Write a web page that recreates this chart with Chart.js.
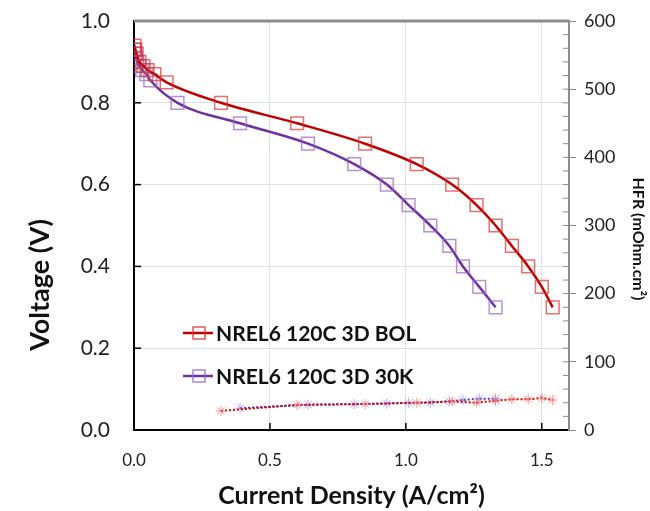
<!DOCTYPE html>
<html>
<head>
<meta charset="utf-8">
<script src="https://cdn.jsdelivr.net/npm/chart.js@4.4.1/dist/chart.umd.min.js"></script>
<style>
  html, body { margin: 0; padding: 0; background: #fff; }
  #wrap { width: 650px; height: 511px; }
</style>
</head>
<body>
<div id="wrap"><canvas id="myChart" width="650" height="511"></canvas></div>
<script>
// polarization curves: current density (A/cm2) vs voltage (V)
const bolCurrent = [0.002, 0.005, 0.01, 0.02, 0.035, 0.05, 0.075, 0.12, 0.32, 0.60, 0.85, 1.04, 1.17, 1.26, 1.33, 1.39, 1.45, 1.50, 1.54];
const bolVoltage = [0.94, 0.93, 0.92, 0.90, 0.89, 0.88, 0.87, 0.85, 0.80, 0.75, 0.70, 0.65, 0.60, 0.55, 0.50, 0.45, 0.40, 0.35, 0.30];
const k30Current = [0.0, 0.003, 0.006, 0.012, 0.02, 0.03, 0.045, 0.06, 0.16, 0.39, 0.64, 0.81, 0.93, 1.01, 1.09, 1.16, 1.21, 1.27, 1.33];
const k30Voltage = [0.93, 0.92, 0.91, 0.90, 0.89, 0.88, 0.87, 0.855, 0.80, 0.75, 0.70, 0.65, 0.60, 0.55, 0.50, 0.45, 0.40, 0.35, 0.30];

// HFR (mOhm.cm2)
const bolHfrCurrent = [0.32, 0.60, 0.85, 1.04, 1.17, 1.26, 1.33, 1.39, 1.45, 1.50, 1.54];
const bolHfr = [28, 37, 38, 40, 42, 40, 43, 45, 45, 47, 44];
const k30HfrCurrent = [0.39, 0.64, 0.81, 0.93, 1.01, 1.09, 1.16, 1.21, 1.27, 1.33];
const k30Hfr = [32, 37, 38, 39, 40, 40, 42, 44, 46, 46];

const seriesNames = ['NREL6 120C 3D BOL', 'NREL6 120C 3D 30K'];
const yTitle = 'Voltage (V)';
const y2Title = 'HFR (mOhm.cm²)';

function pts(xs, ys) {
    return xs.map((x, i) => ({ x: x, y: ys[i] }));
}

const FONT = 'Lato, "Liberation Sans", sans-serif';

const data = {
    datasets: [
        {
            label: seriesNames[0],
            data: pts(bolCurrent, bolVoltage),
            yAxisID: 'y',
            showLine: true,
            borderColor: '#c00000',
            borderWidth: 2.5,
            cubicInterpolationMode: 'monotone',
            pointStyle: 'rect',
            pointRadius: 9,
            pointBorderWidth: 1.5,
            pointBorderColor: 'rgba(220, 50, 50, 0.7)',
            pointBackgroundColor: 'rgba(0, 0, 0, 0)',
        },
        {
            label: seriesNames[1],
            data: pts(k30Current, k30Voltage),
            yAxisID: 'y',
            showLine: true,
            borderColor: '#7030a0',
            borderWidth: 2.5,
            cubicInterpolationMode: 'monotone',
            pointStyle: 'rect',
            pointRadius: 9,
            pointBorderWidth: 1.5,
            pointBorderColor: 'rgba(150, 100, 200, 0.7)',
            pointBackgroundColor: 'rgba(0, 0, 0, 0)',
        },
        {
            label: 'HFR BOL',
            data: pts(bolHfrCurrent, bolHfr),
            yAxisID: 'y2',
            showLine: true,
            borderColor: '#e00000',
            borderWidth: 2,
            borderDash: [2, 2],
            pointStyle: 'star',
            pointRadius: 5,
            pointBorderWidth: 1,
            pointBorderColor: 'rgba(240, 110, 110, 0.7)',
        },
        {
            label: 'HFR 30K',
            data: pts(k30HfrCurrent, k30Hfr),
            yAxisID: 'y2',
            showLine: true,
            borderColor: '#4b3fd0',
            borderWidth: 2,
            borderDash: [2, 2],
            pointStyle: 'star',
            pointRadius: 5,
            pointBorderWidth: 1,
            pointBorderColor: 'rgba(160, 130, 220, 0.7)',
        },
    ]
};

// top frame line, inner tick marks, axis titles and in-plot legend
const framePlugin = {
    id: 'frame',
    afterDraw(chart) {
        const ctx = chart.ctx;
        const a = chart.chartArea;
        const x = chart.scales.x, y = chart.scales.y, y2 = chart.scales.y2;
        ctx.save();
        ctx.strokeStyle = '#8c8c8c';
        ctx.lineWidth = 3;
        ctx.beginPath();
        ctx.moveTo(a.left, a.top);
        ctx.lineTo(a.right, a.top);
        ctx.stroke();
        ctx.lineWidth = 1;
        for (let v = 20; v < 600; v += 20) {
            const py = y2.getPixelForValue(v);
            ctx.beginPath();
            ctx.moveTo(a.right - 6, py);
            ctx.lineTo(a.right, py);
            ctx.stroke();
        }
        ctx.strokeStyle = '#000';
        ctx.lineWidth = 1.5;
        for (let v = 0.2; v < 1.0; v += 0.2) {
            const py = y.getPixelForValue(v);
            ctx.beginPath();
            ctx.moveTo(a.left, py);
            ctx.lineTo(a.left + 7, py);
            ctx.stroke();
        }
        for (let v = 0.5; v < 1.6; v += 0.5) {
            const px = x.getPixelForValue(v);
            ctx.beginPath();
            ctx.moveTo(px, a.bottom);
            ctx.lineTo(px, a.bottom - 7);
            ctx.stroke();
        }
        // axis titles (offset below the axis centre, as in the original)
        ctx.fillStyle = '#111';
        ctx.textAlign = 'center';
        ctx.textBaseline = 'middle';
        ctx.font = 'bold 27px ' + FONT;
        ctx.save();
        ctx.translate(40, 285);
        ctx.rotate(-Math.PI / 2);
        ctx.fillText(yTitle, 0, 0);
        ctx.restore();
        ctx.font = 'bold 16px ' + FONT;
        ctx.save();
        ctx.translate(638, 239);
        ctx.rotate(Math.PI / 2);
        ctx.fillText(y2Title, 0, 0);
        ctx.restore();
        // legend
        const items = [
            { name: seriesNames[0], line: '#c00000', box: 'rgba(220, 50, 50, 0.8)', ly: 333 },
            { name: seriesNames[1], line: '#7030a0', box: 'rgba(150, 100, 200, 0.8)', ly: 376 },
        ];
        ctx.font = 'bold 21px ' + FONT;
        ctx.textAlign = 'left';
        items.forEach(it => {
            ctx.strokeStyle = it.line;
            ctx.lineWidth = 2.5;
            ctx.beginPath();
            ctx.moveTo(183, it.ly);
            ctx.lineTo(213, it.ly);
            ctx.stroke();
            ctx.strokeStyle = it.box;
            ctx.lineWidth = 1.5;
            ctx.strokeRect(193, it.ly - 6, 12, 12);
            ctx.fillStyle = '#111';
            ctx.fillText(it.name, 216, it.ly + 1);
        });
        ctx.restore();
    }
};

const config = {
    type: 'scatter',
    data: data,
    options: {
        responsive: false,
        animation: false,
        layout: { padding: { top: 21, left: 0, right: 0, bottom: 0 } },
        plugins: {
            legend: { display: false },
            tooltip: { enabled: false },
        },
        scales: {
            x: {
                type: 'linear',
                min: 0,
                max: 1.6,
                border: { color: '#000', width: 2 },
                grid: { color: '#e0e0e0', tickColor: 'rgba(0,0,0,0)', tickLength: 18 },
                ticks: {
                    stepSize: 0.5,
                    includeBounds: false,
                    padding: 2,
                    color: '#222',
                    font: { family: FONT, size: 17 },
                    callback: v => v.toFixed(1),
                },
                title: {
                    display: true,
                    text: 'Current Density (A/cm²)',
                    color: '#111',
                    font: { family: FONT, size: 25, weight: 'bold' },
                    padding: { top: 2, bottom: 0 },
                },
                afterFit(scale) { scale.height = 81; },
            },
            y: {
                type: 'linear',
                position: 'left',
                min: 0,
                max: 1,
                border: { color: '#000', width: 2 },
                grid: { color: '#e0e0e0', tickColor: 'rgba(0,0,0,0)', tickLength: 20 },
                ticks: {
                    stepSize: 0.2,
                    padding: 4,
                    color: '#222',
                    font: { family: FONT, size: 21 },
                    callback: v => v.toFixed(1),
                },
                afterFit(scale) { scale.width = 134; },
            },
            y2: {
                type: 'linear',
                position: 'right',
                min: 0,
                max: 600,
                border: { color: '#8c8c8c', width: 2 },
                grid: { drawOnChartArea: false, color: '#8c8c8c', tickLength: 7 },
                ticks: {
                    stepSize: 100,
                    padding: 8,
                    color: '#222',
                    font: { family: FONT, size: 18 },
                },
                afterFit(scale) { scale.width = 81; },
            },
        },
    },
    plugins: [framePlugin],
};

const myChart = new Chart(document.getElementById('myChart'), config);
</script>
</body>
</html>
